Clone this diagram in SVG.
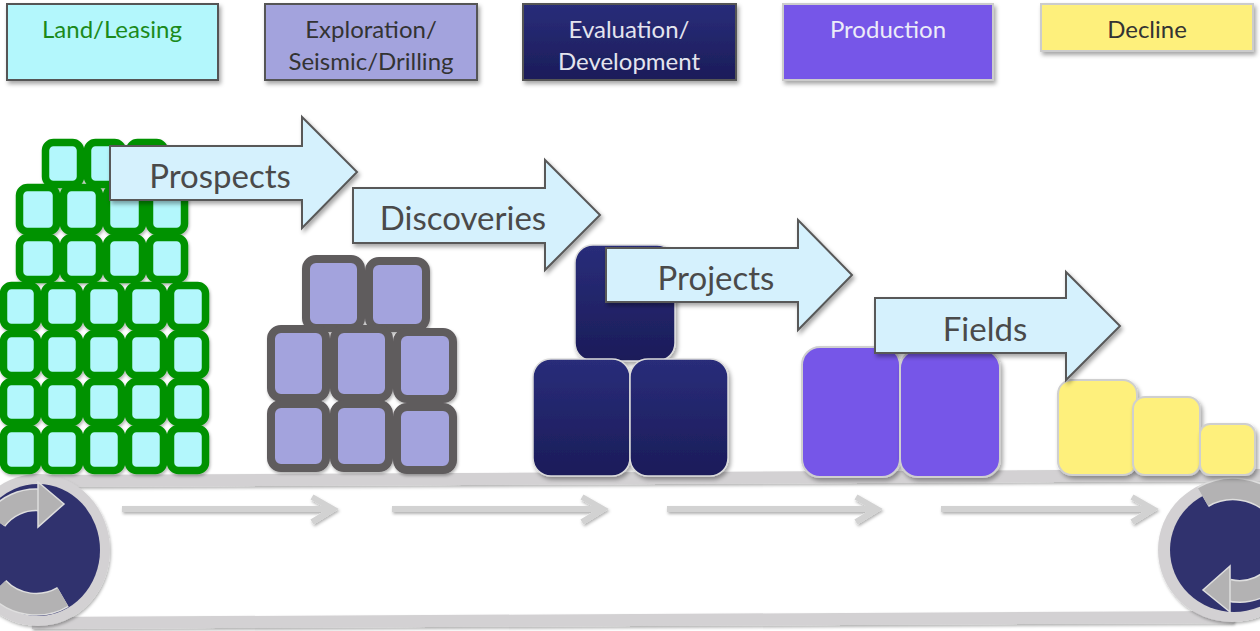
<svg xmlns="http://www.w3.org/2000/svg" width="1260" height="631" viewBox="0 0 1260 631">
<defs>
<filter id="sh" x="-20%" y="-20%" width="150%" height="150%"><feDropShadow dx="2" dy="3" stdDeviation="2" flood-color="#000" flood-opacity="0.35"/></filter>
<filter id="shs" x="-20%" y="-20%" width="150%" height="150%"><feDropShadow dx="1" dy="2" stdDeviation="1.5" flood-color="#000" flood-opacity="0.3"/></filter>
<linearGradient id="navy" x1="0" y1="0" x2="0" y2="1"><stop offset="0" stop-color="#292d7a"/><stop offset="1" stop-color="#1b1c59"/></linearGradient>
<style>
.hdr{stroke:#555;stroke-width:2;filter:url(#sh)}
.ht{font-family:Lato,"Open Sans","Liberation Sans",sans-serif;font-size:24px;text-anchor:middle}
.grn rect{fill:#b3f7fc;stroke:#009200;stroke-width:7.5}
.gry rect{fill:#a3a3dd;stroke:#5f5b5d;stroke-width:8}
.nv rect{fill:url(#navy);stroke:#dcdcdc;stroke-width:1.5;filter:url(#sh)}
.pp rect{fill:#7657e8;stroke:#cfcfcf;stroke-width:2;filter:url(#sh)}
.yl rect{fill:#fef07b;stroke:#cfcfcf;stroke-width:2;filter:url(#sh)}
.ba{fill:#d5f1fd;stroke:#585858;stroke-width:2;filter:url(#sh)}
.bt{font-family:Lato,"Open Sans","Liberation Sans",sans-serif;font-size:33px;fill:#4a4a4a;text-anchor:middle}
.mid{fill:none;stroke:#d2d2d2;stroke-width:6;filter:url(#shs)}
.belt{fill:#d3d1d3;filter:url(#shs)}
.rarc{fill:none;stroke:#b3b2b3;stroke-width:20}
.rarcb{fill:none;stroke:#dedede;stroke-width:23}
.rh{fill:#b3b2b3;stroke:#dedede;stroke-width:1.5}
</style>
</defs>
<rect width="1260" height="631" fill="#fff"/>

<g id="header-land"><rect class="hdr" x="7" y="4" width="211" height="76" fill="#b3f7fc"/><text class="ht" x="112" y="38" fill="#1b8a1b">Land/Leasing</text></g>
<g id="header-exploration"><rect class="hdr" x="265" y="4" width="212" height="76" fill="#a3a3dd"/><text class="ht" x="371" y="38" fill="#333">Exploration/</text><text class="ht" x="371" y="70" fill="#333">Seismic/Drilling</text></g>
<g id="header-evaluation"><rect class="hdr" x="523" y="4" width="213" height="76" fill="url(#navy)" stroke="#ccc"/><text class="ht" x="629" y="38" fill="#e4e4ee">Evaluation/</text><text class="ht" x="629" y="70" fill="#e4e4ee">Development</text></g>
<g id="header-production"><rect class="hdr" x="783" y="4" width="210" height="76" fill="#7657e8" style="stroke:#ccc"/><text class="ht" x="888" y="38" fill="#ececf8">Production</text></g>
<g id="header-decline"><rect class="hdr" x="1041" y="4" width="212" height="47" fill="#fef07b" style="stroke:#ccc"/><text class="ht" x="1147" y="38" fill="#333">Decline</text></g>

<g id="conveyor">
<polygon class="belt" points="33,475 1260,469 1260,481 33,487"/>
<polygon class="belt" points="32,617 1234,611 1234,623 32,629"/>
<g id="roller-left">
<ellipse cx="38" cy="550" rx="72" ry="76" fill="#d3d1d3" filter="url(#shs)"/>
<ellipse cx="38" cy="550" rx="62" ry="66" fill="#30326e"/>
<path class="rarcb" d="M -4 520 A 50 50 0 0 1 40 500"/>
<path class="rarc" d="M -4 520 A 50 50 0 0 1 40 500"/>
<polygon class="rh" points="38,482 64,504 38,527"/>
<path class="rarcb" d="M -2 588 A 53 53 0 0 0 63 597"/>
<path class="rarc" d="M -2 588 A 53 53 0 0 0 63 597"/>
</g>
<g id="roller-right">
<ellipse cx="1232" cy="550" rx="74" ry="72" fill="#d3d1d3" filter="url(#shs)"/>
<ellipse cx="1234" cy="550" rx="64" ry="62" fill="#30326e"/>
<path class="rarcb" d="M 1277 508 A 60 60 0 0 0 1203 497"/>
<path class="rarc" d="M 1277 508 A 60 60 0 0 0 1203 497"/>
<path class="rarcb" d="M 1282 566 A 48 48 0 0 1 1228 590"/>
<path class="rarc" d="M 1282 566 A 48 48 0 0 1 1228 590"/>
<polygon class="rh" points="1230,566 1203,590 1230,612"/>
</g>
</g>

<g id="connectors">
<path class="mid" d="M122 509 H330 M312 497 L333 509 L312 522"/>
<path class="mid" d="M392 509 H600 M582 497 L603 509 L582 522"/>
<path class="mid" d="M667 509 H874 M856 497 L877 509 L856 522"/>
<path class="mid" d="M941 509 H1150 M1132 497 L1153 509 L1132 522"/>
</g>

<g id="land-stack" class="grn" filter="url(#shs)">
<rect x="45.5" y="142.5" width="35" height="42" rx="8"/><rect x="87.5" y="142.5" width="35" height="42" rx="8"/><rect x="129.5" y="142.5" width="35" height="42" rx="8"/>
<rect x="19.5" y="187.5" width="37" height="44" rx="8"/><rect x="63.5" y="187.5" width="36" height="44" rx="8"/><rect x="106.5" y="187.5" width="36" height="44" rx="8"/><rect x="149.5" y="187.5" width="35" height="44" rx="8"/>
<rect x="19.5" y="237.5" width="37" height="42" rx="8"/><rect x="63.5" y="237.5" width="36" height="42" rx="8"/><rect x="106.5" y="237.5" width="36" height="42" rx="8"/><rect x="149.5" y="237.5" width="35" height="42" rx="8"/>
<rect x="3.5" y="285.5" width="34" height="42" rx="8"/><rect x="44.5" y="285.5" width="35" height="42" rx="8"/><rect x="86.5" y="285.5" width="35" height="42" rx="8"/><rect x="128.5" y="285.5" width="35" height="42" rx="8"/><rect x="170.5" y="285.5" width="35" height="42" rx="8"/>
<rect x="3.5" y="333.5" width="34" height="42" rx="8"/><rect x="44.5" y="333.5" width="35" height="42" rx="8"/><rect x="86.5" y="333.5" width="35" height="42" rx="8"/><rect x="128.5" y="333.5" width="35" height="42" rx="8"/><rect x="170.5" y="333.5" width="35" height="42" rx="8"/>
<rect x="3.5" y="381.5" width="34" height="41" rx="8"/><rect x="44.5" y="381.5" width="35" height="41" rx="8"/><rect x="86.5" y="381.5" width="35" height="41" rx="8"/><rect x="128.5" y="381.5" width="35" height="41" rx="8"/><rect x="170.5" y="381.5" width="35" height="41" rx="8"/>
<rect x="3.5" y="428.5" width="34" height="42" rx="8"/><rect x="44.5" y="428.5" width="35" height="42" rx="8"/><rect x="86.5" y="428.5" width="35" height="42" rx="8"/><rect x="128.5" y="428.5" width="35" height="42" rx="8"/><rect x="170.5" y="428.5" width="35" height="42" rx="8"/>
</g>

<g id="exploration-stack" class="gry" filter="url(#shs)">
<rect x="306" y="259" width="55" height="69" rx="10"/><rect x="369" y="261" width="57" height="67" rx="10"/>
<rect x="271" y="329" width="55" height="69" rx="10"/><rect x="334" y="329" width="55" height="69" rx="10"/><rect x="397" y="332" width="56" height="67" rx="10"/>
<rect x="271" y="404" width="55" height="64" rx="10"/><rect x="334" y="404" width="55" height="64" rx="10"/><rect x="397" y="407" width="56" height="63" rx="10"/>
</g>

<g id="evaluation-stack" class="nv">
<rect x="575" y="245" width="100" height="116" rx="18"/>
<rect x="533" y="359" width="97" height="117" rx="18"/>
<rect x="630" y="359" width="98" height="117" rx="18"/>
</g>

<g id="production-stack" class="pp">
<rect x="802" y="347" width="98" height="130" rx="18"/>
<rect x="900" y="350" width="100" height="127" rx="18"/>
</g>

<g id="decline-stack" class="yl">
<rect x="1058" y="380" width="79" height="95" rx="14"/>
<rect x="1133" y="397" width="67" height="78" rx="12"/>
<rect x="1200" y="424" width="55" height="51" rx="10"/>
</g>

<g id="arrow-prospects"><polygon class="ba" points="110,146 302,146 302,117 357,172 302,228 302,200 110,200"/><text class="bt" x="220" y="188">Prospects</text></g>
<g id="arrow-discoveries"><polygon class="ba" points="353,188 545,188 545,160 600,215 545,270 545,243 353,243"/><text class="bt" x="463" y="230">Discoveries</text></g>
<g id="arrow-projects"><polygon class="ba" points="606,248 798,248 798,220 852,275 798,330 798,302 606,302"/><text class="bt" x="716" y="290">Projects</text></g>
<g id="arrow-fields"><polygon class="ba" points="875,298 1066,298 1066,272 1120,326 1066,380 1066,353 875,353"/><text class="bt" x="985" y="341">Fields</text></g>
</svg>
